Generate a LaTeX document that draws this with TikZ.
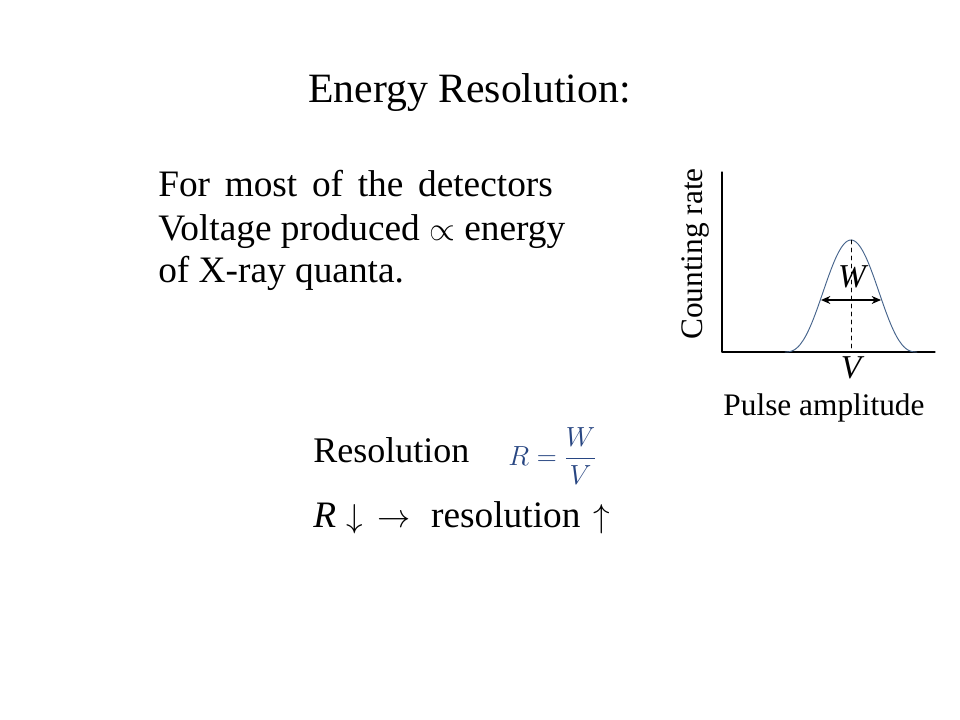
\documentclass[tikz,border=0pt]{standalone}
\usepackage{fontspec}
\setmainfont{Liberation Serif}
\usepackage{amsmath}
\usetikzlibrary{arrows,arrows.meta}
\definecolor{curveblue}{RGB}{70,100,140}
\definecolor{formulablue}{RGB}{40,70,130}
\tikzset{
  slidetext/.style={anchor=base west,inner sep=0pt,font=\fontsize{28}{34}\selectfont},
  graphtext/.style={inner sep=0pt,font=\fontsize{23.5}{28}\selectfont},
  graphvar/.style={inner sep=0pt,font=\fontsize{25}{30}\selectfont\itshape}
}
\begin{document}
\begin{tikzpicture}[line cap=round,line join=round,>={Stealth[length=7pt,width=6pt]},x=0.75pt,y=-0.75pt]
  \useasboundingbox[fill=white] (0,0) rectangle (960,720);
  % title
  \node[anchor=base west,inner sep=0pt,font=\fontsize{31.3}{38}\selectfont] (title) at (308,103) {Energy Resolution:};
  % text block
  \node[slidetext] (line1) at (158,197) {\spaceskip=11pt For most of the detectors};
  \node[slidetext] (line2) at (158,241) {Voltage produced $\propto$ energy};
  \node[slidetext] (line3) at (158,283) {of X-ray quanta.};
  \node[slidetext,font=\fontsize{27}{32}\selectfont] (reslabel) at (313,462) {Resolution};
  \node[anchor=west,inner sep=0pt,text=formulablue,font=\fontsize{20}{24}\selectfont] (formula) at (508,456) {$R=\dfrac{W}{\rule{0pt}{15pt}V}$};
  \node[slidetext] (rule) at (313,527) {\textit{R}\hspace{8pt}$\downarrow$\hspace{11pt}$\rightarrow$\hspace{15pt}resolution\hspace{10pt}$\uparrow$};
  % graph
  \coordinate (origin) at (722,352);
  \coordinate (ytop) at (722,172);
  \coordinate (xend) at (935,352);
  \coordinate (peak) at (851,240);
  \coordinate (wleft) at (821,300);
  \coordinate (wright) at (881,300);
  \draw [line width=0.8pt] (ytop) -- (origin) -- (xend);
  \draw [color=curveblue,line width=0.7pt] plot[domain=785:917,samples=90,smooth] (\x,{352-112*((1+cos(180*(\x-851)/66))/2)^1.3});
  \draw [dashed,line width=0.7pt] (peak) -- (peak |- origin);
  \draw [<->,line width=0.9pt] (wleft) -- (wright);
  \node[graphvar] (wlabel) at (852,277) {W};
  \node[graphvar] (vlabel) at (851,368) {V};
  \node[graphtext] (xlabel) at (824,408) {Pulse amplitude};
  \node[graphtext,rotate=90] (ylabel) at (695,254) {Counting rate};
\end{tikzpicture}
\end{document}
